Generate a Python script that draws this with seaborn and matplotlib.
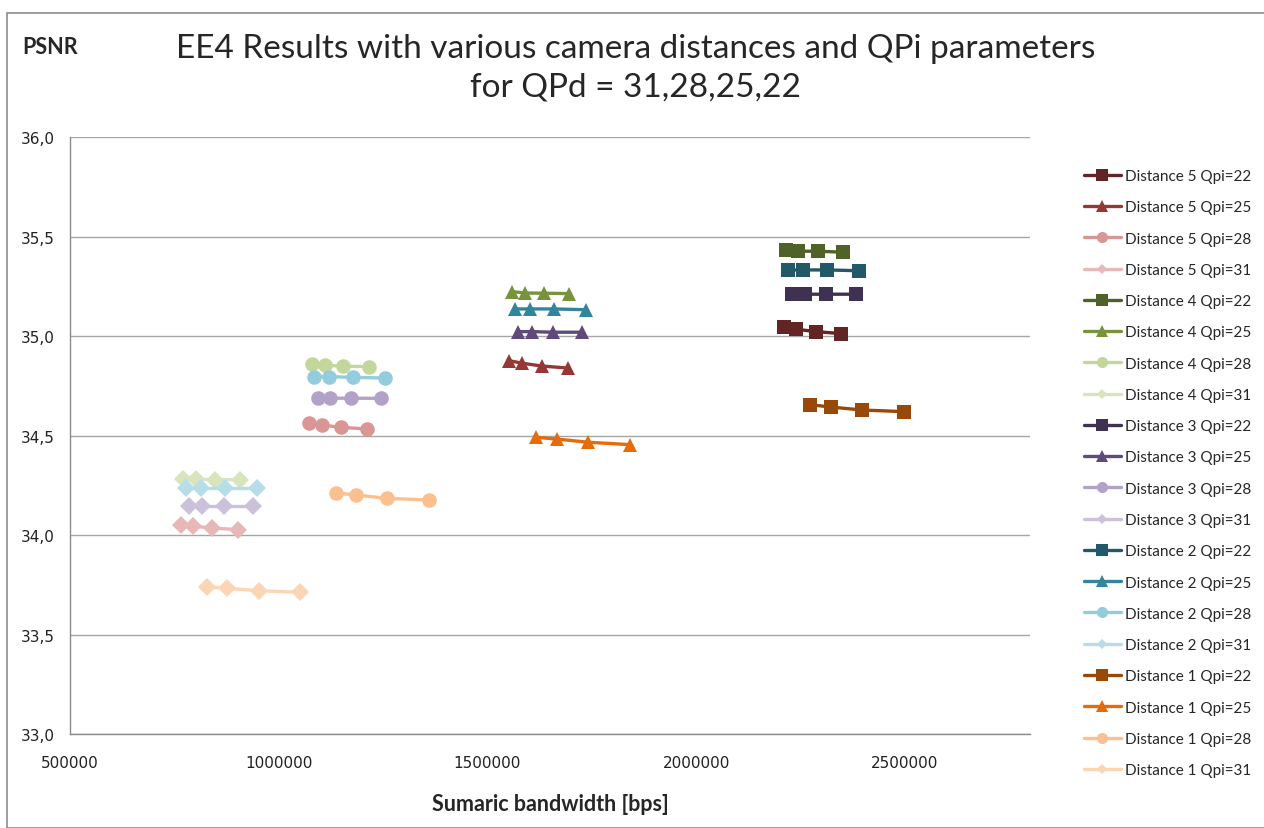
import matplotlib
matplotlib.use("Agg")
import matplotlib.pyplot as plt
import matplotlib.ticker as mticker
from matplotlib.lines import Line2D
from matplotlib.patches import Rectangle
import pandas as pd
import seaborn as sns

# --- data: per distance, one list per Qpi (22, 25, 28, 31) ---
qpi_values = [22, 25, 28, 31]
distances = [5, 4, 3, 2, 1]

bw_dist5 = [[2210000, 2240000, 2287000, 2348000],
            [1552000, 1584000, 1631000, 1693000],
            [1073000, 1103000, 1149000, 1211000],
            [765000, 795000, 841000, 903000]]
psnr_dist5 = [[35.047, 35.034, 35.022, 35.012],
              [34.876, 34.863, 34.849, 34.839],
              [34.564, 34.553, 34.541, 34.533],
              [34.050, 34.044, 34.035, 34.027]]

bw_dist4 = [[2215000, 2245000, 2291000, 2353000],
            [1559000, 1591000, 1636000, 1696000],
            [1079000, 1110000, 1153000, 1216000],
            [771000, 801000, 847000, 908000]]
psnr_dist4 = [[35.434, 35.426, 35.426, 35.421],
              [35.223, 35.216, 35.215, 35.213],
              [34.859, 34.854, 34.848, 34.846],
              [34.281, 34.280, 34.278, 34.278]]

bw_dist3 = [[2229000, 2262000, 2312000, 2382000],
            [1574000, 1607000, 1658000, 1727000],
            [1093000, 1124000, 1174000, 1244000],
            [785000, 817000, 868000, 939000]]
psnr_dist3 = [[35.211, 35.210, 35.210, 35.210],
              [35.022, 35.022, 35.019, 35.019],
              [34.688, 34.688, 34.687, 34.687],
              [34.147, 34.147, 34.147, 34.147]]

bw_dist2 = [[2221000, 2257000, 2314000, 2390000],
            [1566000, 1602000, 1660000, 1736000],
            [1085000, 1121000, 1179000, 1254000],
            [779000, 813000, 871000, 947000]]
psnr_dist2 = [[35.332, 35.332, 35.332, 35.328],
              [35.136, 35.136, 35.136, 35.132],
              [34.796, 34.796, 34.792, 34.789],
              [34.238, 34.238, 34.238, 34.238]]

bw_dist1 = [[2272000, 2323000, 2398000, 2497000],
            [1617000, 1667000, 1742000, 1842000],
            [1138000, 1186000, 1260000, 1360000],
            [828000, 877000, 952000, 1052000]]
psnr_dist1 = [[34.655, 34.643, 34.628, 34.620],
              [34.491, 34.482, 34.466, 34.454],
              [34.211, 34.201, 34.184, 34.176],
              [33.740, 33.732, 33.720, 33.712]]

bandwidth = {5: bw_dist5, 4: bw_dist4, 3: bw_dist3, 2: bw_dist2, 1: bw_dist1}
psnr = {5: psnr_dist5, 4: psnr_dist4, 3: psnr_dist3, 2: psnr_dist2, 1: psnr_dist1}

# Excel 2007 shades, dark -> light for Qpi 22, 25, 28, 31
colors = {
    5: ["#632523", "#953735", "#D99694", "#E6B9B8"],
    4: ["#4F6228", "#77933C", "#C3D69B", "#D7E4BD"],
    3: ["#3F3151", "#604A7B", "#B3A2C7", "#CCC1DA"],
    2: ["#215968", "#31859C", "#93CDDD", "#B7DEE8"],
    1: ["#984807", "#E46C0A", "#FAC090", "#FCD5B5"],
}
markers = {22: "s", 25: "^", 28: "o", 31: "D"}
msizes = {22: 10, 25: 10.5, 28: 10.5, 31: 9}

sns.set_style("white")
plt.rcParams["font.family"] = ["Lato", "DejaVu Sans"]

fig = plt.figure(figsize=(12.64, 8.29), dpi=100)
ax = fig.add_axes([70 / 1264, 1 - 735 / 829, 960 / 1264, 597 / 829])

handles = []
labels = []
for d in distances:
    for i, q in enumerate(qpi_values):
        df = pd.DataFrame({"bw": bandwidth[d][i], "psnr": psnr[d][i]})
        col = colors[d][i]
        sns.lineplot(data=df, x="bw", y="psnr", ax=ax, color=col, lw=2.4,
                     marker=markers[q], markersize=msizes[q], markeredgewidth=0,
                     sort=False, zorder=3)
        handles.append(Line2D([0], [0], color=col, lw=2.4, marker=markers[q],
                              markersize=8 if q != 31 else 5.5,
                              markeredgewidth=0))
        labels.append(f"Distance {d} Qpi={q}")

ax.set_xlim(500000, 2800000)
ax.set_ylim(33.0, 36.0)
ax.xaxis.set_major_locator(mticker.MultipleLocator(500000))
ax.yaxis.set_major_locator(mticker.MultipleLocator(0.5))
ax.xaxis.set_major_formatter(mticker.FuncFormatter(lambda v, p: f"{int(v)}"))
ax.yaxis.set_major_formatter(mticker.FuncFormatter(lambda v, p: f"{v:.1f}".replace(".", ",")))
ax.grid(axis="y", color="#A6A6A6", lw=1)
ax.grid(axis="x", visible=False)
for s in ["top", "right"]:
    ax.spines[s].set_visible(False)
for s in ["left", "bottom"]:
    ax.spines[s].set_color("#8C8C8C")
    ax.spines[s].set_linewidth(1)
ax.tick_params(axis="both", which="major", direction="out", length=5, width=1,
               color="#8C8C8C", labelsize=11, labelcolor="#222222")
for lab in ax.get_xticklabels() + ax.get_yticklabels():
    lab.set_family("DejaVu Sans")
ax.tick_params(axis="x", pad=10)
ax.tick_params(axis="y", pad=6)
ax.set_xlabel("")
ax.set_ylabel("")

fig.text(550 / 1264, 1 - 805 / 829, "Sumaric bandwidth [bps]", ha="center", va="center",
         fontsize=15.5, fontweight="bold")
fig.text(22 / 1264, 1 - 47 / 829, "PSNR", ha="left", va="center",
         fontsize=15.5, fontweight="bold")
fig.text(636 / 1264, 1 - 68 / 829,
         "EE4 Results with various camera distances and QPi parameters\nfor QPd = 31,28,25,22",
         ha="center", va="center", fontsize=24, linespacing=1.35)

fig.legend(handles, labels, loc="upper left", bbox_to_anchor=(1078 / 1264, 1 - 164 / 829),
           frameon=False, fontsize=11, handlelength=2.4, handletextpad=0.3,
           labelspacing=1.13, borderaxespad=0)

# chart area border
fig.patches.append(Rectangle((7 / 1264, 0), 1.2, 1 - 14 / 829, transform=fig.transFigure,
                             fill=False, edgecolor="#8C8C8C", lw=1.2))

fig.savefig("out.png", dpi=100)
